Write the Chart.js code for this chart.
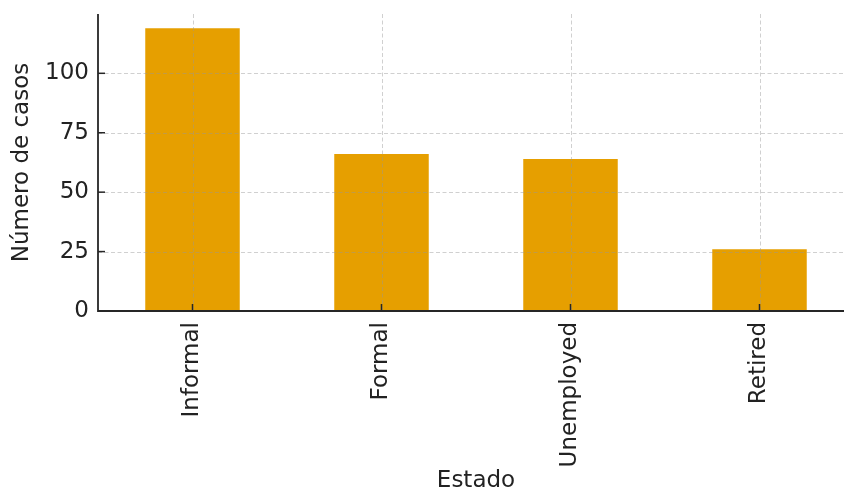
<!DOCTYPE html>
<html>
<head>
<meta charset="utf-8">
<script src="https://cdn.jsdelivr.net/npm/chart.js@4/dist/chart.umd.min.js"></script>
<style>
    html, body { margin: 0; padding: 0; background: #fff; overflow: hidden; }
    #wrap { width: 856px; height: 493px; position: relative; }
</style>
</head>
<body>
<div id="wrap"><canvas id="estadoChart"></canvas></div>
<script>
// Datos del gráfico
const categorias = ['Informal', 'Formal', 'Unemployed', 'Retired'];
const casos = [119, 66, 64, 26];
const yMax = 124.95;
const yTicks = [0, 25, 50, 75, 100];

const textColor = '#222222';
const spineColor = '#262626';
const gridColor = 'rgba(150, 150, 150, 0.45)';

// Cuadrícula discontinua, ejes y marcas hacia adentro, dibujados sobre las barras
const estiloMatplotlib = {
    id: 'estiloMatplotlib',
    afterDatasetsDraw(chart) {
        const ctx = chart.ctx;
        const area = chart.chartArea;
        const x = chart.scales.x;
        const y = chart.scales.y;
        ctx.save();

        // cuadrícula
        ctx.strokeStyle = gridColor;
        ctx.lineWidth = 1;
        ctx.setLineDash([4, 2.5]);
        y.ticks.forEach(function(t) {
            const py = Math.round(y.getPixelForValue(t.value)) + 0.5;
            ctx.beginPath();
            ctx.moveTo(area.left, py);
            ctx.lineTo(area.right, py);
            ctx.stroke();
        });
        x.ticks.forEach(function(t, i) {
            const px = Math.round(x.getPixelForTick(i)) + 0.5;
            ctx.beginPath();
            ctx.moveTo(px, area.top);
            ctx.lineTo(px, area.bottom);
            ctx.stroke();
        });

        // marcas
        ctx.setLineDash([]);
        ctx.strokeStyle = spineColor;
        ctx.lineWidth = 1.5;
        y.ticks.forEach(function(t) {
            const py = y.getPixelForValue(t.value);
            ctx.beginPath();
            ctx.moveTo(area.left, py);
            ctx.lineTo(area.left + 7, py);
            ctx.stroke();
        });
        x.ticks.forEach(function(t, i) {
            const px = x.getPixelForTick(i);
            ctx.beginPath();
            ctx.moveTo(px, area.bottom);
            ctx.lineTo(px, area.bottom - 7);
            ctx.stroke();
        });

        // ejes izquierdo e inferior
        ctx.lineWidth = 1.8;
        ctx.beginPath();
        ctx.moveTo(area.left, area.top);
        ctx.lineTo(area.left, area.bottom);
        ctx.lineTo(area.right + 2, area.bottom);
        ctx.stroke();

        ctx.restore();
    }
};

const ctx = document.getElementById('estadoChart').getContext('2d');
const chart = new Chart(ctx, {
    type: 'bar',
    data: {
        labels: categorias,
        datasets: [{
            label: 'Número de casos',
            data: casos,
            backgroundColor: '#E69F00',
            borderWidth: 0,
            barPercentage: 0.5,
            categoryPercentage: 1.0
        }]
    },
    options: {
        responsive: true,
        maintainAspectRatio: false,
        animation: false,
        layout: {
            padding: { top: 14, right: 2, left: 0, bottom: 0 }
        },
        plugins: {
            legend: { display: false },
            tooltip: { enabled: false }
        },
        scales: {
            x: {
                grid: { display: false, drawTicks: false },
                border: { display: false },
                ticks: {
                    color: textColor,
                    font: { family: 'DejaVu Sans', size: 23 },
                    minRotation: 90,
                    maxRotation: 90,
                    autoSkip: false,
                    padding: 11
                },
                title: {
                    display: true,
                    text: 'Estado',
                    color: textColor,
                    font: { family: 'DejaVu Sans', size: 23, lineHeight: 1 },
                    padding: { top: 0, bottom: 0 }
                },
                afterFit: function(scale) {
                    scale.height = 182;
                    scale.paddingLeft = 0;
                    scale.paddingRight = 0;
                }
            },
            y: {
                min: 0,
                max: yMax,
                grid: { display: false, drawTicks: false },
                border: { display: false },
                afterBuildTicks: function(scale) {
                    scale.ticks = yTicks.map(function(v) { return { value: v }; });
                },
                ticks: {
                    color: textColor,
                    font: { family: 'DejaVu Sans', size: 23 },
                    padding: 9,
                    callback: function(value) { return String(value); }
                },
                title: {
                    display: true,
                    text: 'Número de casos',
                    color: textColor,
                    font: { family: 'DejaVu Sans', size: 23, lineHeight: 1 },
                    padding: { top: 11, bottom: 0 }
                },
                afterFit: function(scale) {
                    scale.width = 98;
                    scale.paddingTop = 0;
                    scale.paddingBottom = 0;
                }
            }
        }
    },
    plugins: [estiloMatplotlib]
});
</script>
</body>
</html>
